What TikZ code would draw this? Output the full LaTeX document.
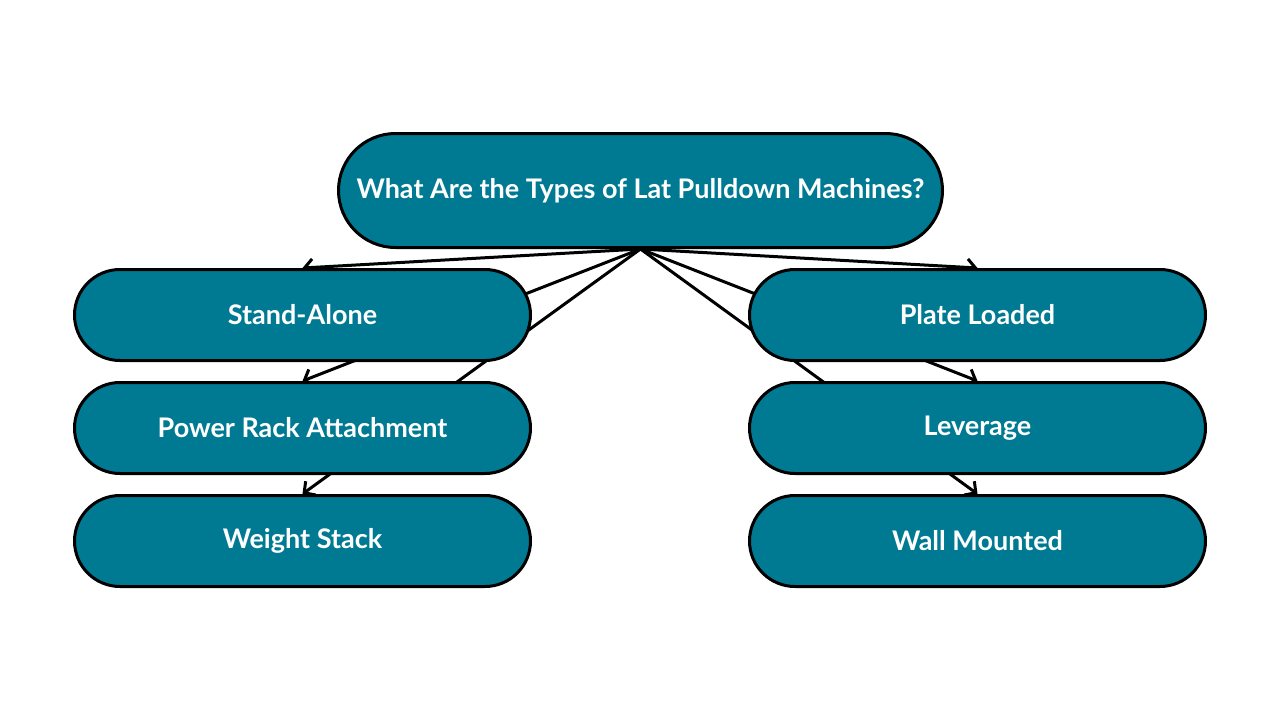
\documentclass[tikz,border=0pt]{standalone}
\usepackage{fontspec}
\setmainfont{Lato}
\usepackage{tikz}
\usetikzlibrary{shapes.misc,arrows.meta,positioning,backgrounds}
\definecolor{pulldown}{RGB}{0,122,147}

\begin{document}
\begin{tikzpicture}[x=1pt,y=-1pt,
	pill/.style={rounded rectangle,draw=black,line width=3pt,fill=pulldown,text=white,
		font=\fontsize{27}{32}\selectfont\bfseries,inner sep=0pt,
		minimum width=456pt,minimum height=91pt},
	link/.style={line width=3pt,-{Straight Barb[length=8pt,width=17pt,line width=3pt]}},
	]
	\useasboundingbox (0,0) rectangle (1280,720);
	\node[pill,minimum width=604pt,minimum height=114pt] (types) at (640.5,190.5) {What Are the Types of Lat Pulldown Machines?};
	% left column
	\node[pill] (standalone) at (302.5,315) {Stand-Alone};
	\node[pill,below=19pt of standalone] (powerrack) {Power Rack Attachment};
	\node[pill,below=19pt of powerrack] (weightstack) {Weight Stack};
	% right column
	\node[pill] (plateloaded) at (977.5,315) {Plate Loaded};
	\node[pill,below=19pt of plateloaded] (leverage) {Leverage};
	\node[pill,below=19pt of leverage] (wallmounted) {Wall Mounted};
	\begin{pgfonlayer}{background}
		\foreach \child in {standalone,powerrack,weightstack,plateloaded,leverage,wallmounted}
			\draw[link] (types.south) -- (\child.north);
	\end{pgfonlayer}
\end{tikzpicture}
\end{document}
